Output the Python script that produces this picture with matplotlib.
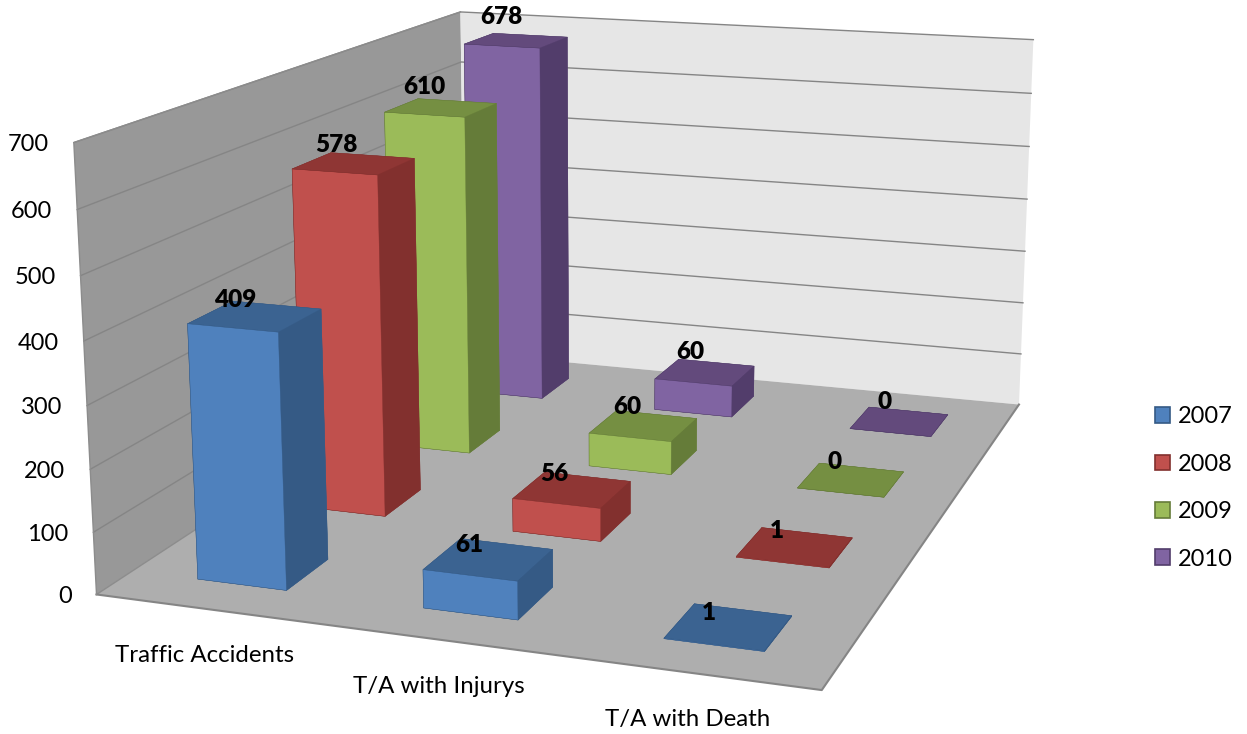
import matplotlib
matplotlib.use('Agg')
import matplotlib.pyplot as plt
from matplotlib.patches import Patch
from mpl_toolkits.mplot3d import proj3d
from mpl_toolkits.mplot3d.art3d import Poly3DCollection

plt.rcParams['font.family'] = ['Lato', 'DejaVu Sans']

categories = ['Traffic Accidents', 'T/A with Injurys', 'T/A with Death']
years = ['2007', '2008', '2009', '2010']
values_2007 = [409, 61, 1]
values_2008 = [578, 56, 1]
values_2009 = [610, 60, 0]
values_2010 = [678, 60, 0]
z_ticks = [0, 100, 200, 300, 400, 500, 600, 700]

series = [values_2007, values_2008, values_2009, values_2010]
front_colors = ['#4F81BD', '#C0504D', '#9BBB59', '#8064A2']
side_colors = ['#355A85', '#82302E', '#657C39', '#523D6B']
top_colors = ['#3B6391', '#8F3634', '#758F42', '#634A7C']

W = 1247
H = 734
BAR = 0.4

fig = plt.figure(figsize=(W / 100, H / 100), dpi=100)
# камера підібрана під референс, вісь більша за фігуру навмисно
ax = fig.add_axes([18.10 / W, -147.90 / H, 1150.87 / W, 1150.87 / H],
                  projection='3d', computed_zorder=False)
ax.view_init(elev=13.9061, azim=-70.8092)
ax.set_proj_type('persp', focal_length=0.4185)
ax.set_box_aspect((1.6278, 2.1163, 1))
x_max = len(categories)
y_max = len(years)
z_max = z_ticks[-1]
ax.set_xlim(0, x_max)
ax.set_ylim(0, y_max)
ax.set_zlim(0, z_max)
ax.set_axis_off()

# стінки і підлога
walls = [
    ([(0, 0, 0), (0, y_max, 0), (0, y_max, z_max), (0, 0, z_max)], '#989898'),
    ([(0, y_max, 0), (x_max, y_max, 0), (x_max, y_max, z_max), (0, y_max, z_max)], '#E6E6E6'),
    ([(0, 0, 0), (x_max, 0, 0), (x_max, y_max, 0), (0, y_max, 0)], '#AEAEAE'),
]
for verts, col in walls:
    ax.add_collection3d(Poly3DCollection([verts], facecolors=col, edgecolors='none', zorder=1))

for z in z_ticks[1:]:
    ax.plot([0, 0, x_max], [0, y_max, y_max], [z, z, z], color='#858585', lw=1, zorder=2)
ax.plot([0, 0], [0, y_max], [0, 0], color='#8C8C8C', lw=1, zorder=2)
ax.plot([0, x_max, x_max], [0, 0, y_max], [0, 0, 0], color='#858585', lw=1.5, zorder=2)
ax.plot([0, 0, 0], [0, 0, y_max], [0, z_max, z_max], color='#8C8C8C', lw=1, zorder=2)

# бари малюю від дальніх до ближніх
order = 3
for j in reversed(range(len(years))):
    for i in range(len(categories)):
        top = top_colors[j]
        # порядок граней у bar3d: низ, верх, перед, зад, ліво, право
        face_colors = [top, top, front_colors[j], top, top, side_colors[j]]
        ax.bar3d(i + 0.5 - BAR / 2, j + 0.5 - BAR / 2, 0, BAR, BAR, series[j][i],
                 color=face_colors, shade=False, edgecolor=side_colors[j],
                 linewidth=0.3, zorder=order)
        order += 1

ax.set_xlim(0, x_max)
ax.set_ylim(0, y_max)
ax.set_zlim(0, z_max)


def to_2d(x, y, z):
    px, py, _ = proj3d.proj_transform(x, y, z, ax.get_proj())
    return float(px), float(py)


for j in range(len(years)):
    for i in range(len(categories)):
        value = series[j][i]
        # зсув підписів залежить від ряду і висоти бара
        ax.annotate(str(value), xy=to_2d(i + 0.5, j + 0.5, value),
                    xytext=(-19.5 + 1.7 * j, 14 + 2 * j + 0.005 * value),
                    textcoords='offset pixels', ha='center', va='center',
                    fontsize=17.5, fontweight='heavy', color='black', zorder=100)

for z in z_ticks:
    ax.annotate(str(z), xy=to_2d(0, 0, z), xytext=(-25, -2), textcoords='offset pixels',
                ha='right', va='center', fontsize=17, color='black', zorder=100)

for i, name in enumerate(categories):
    ax.annotate(name, xy=to_2d(i + 0.5, 0, 0), xytext=(-3, -46.5), textcoords='offset pixels',
                ha='center', va='center', fontsize=17.3, color='black', zorder=100)

handles = [Patch(facecolor=front_colors[k], edgecolor=side_colors[k], linewidth=1.2, label=years[k])
           for k in range(len(years))]
fig.legend(handles=handles, loc='center left', bbox_to_anchor=(1143 / W, 1 - 488 / H), frameon=False,
           fontsize=17, handlelength=0.66, handleheight=0.66, handletextpad=0.3, labelspacing=1.12,
           borderpad=0, borderaxespad=0.5)

fig.savefig('out.png', dpi=100)
